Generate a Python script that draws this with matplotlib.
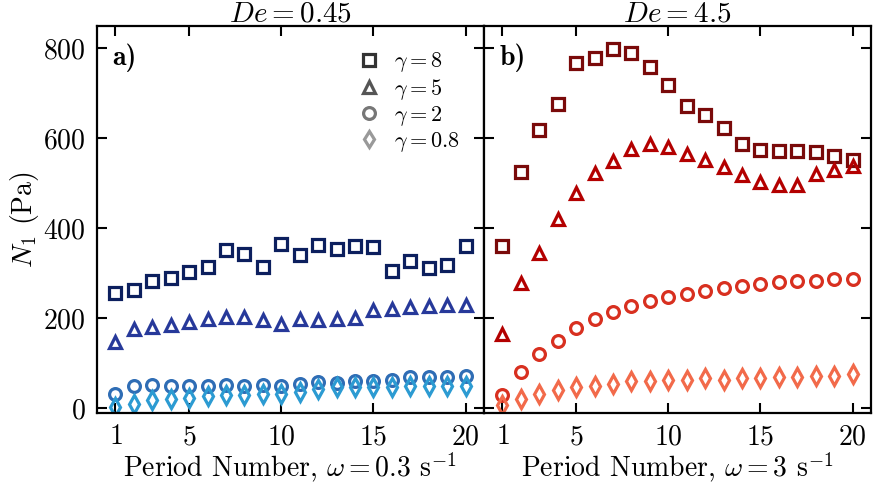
import numpy as np
import matplotlib
matplotlib.use('Agg')
import matplotlib.pyplot as plt
from matplotlib.lines import Line2D

plt.rcParams['font.family'] = 'serif'
plt.rcParams['font.serif'] = ['cmr10']
plt.rcParams['mathtext.fontset'] = 'cm'
plt.rcParams['axes.formatter.use_mathtext'] = True

# period numbers
period = np.arange(1, 21)

# De = 0.45, omega = 0.3 1/s
low_g8 = [257, 264, 283, 290, 303, 315, 353, 344, 315, 366,
          342, 364, 354, 360, 358, 305, 327, 313, 319, 361]
low_g5 = [147, 177, 182, 186, 192, 199, 204, 204, 196, 188,
          198, 197, 198, 201, 218, 220, 225, 227, 231, 229]
low_g2 = [33, 49, 53, 50, 51, 50, 53, 50, 53, 50,
          55, 58, 56, 62, 62, 64, 70, 70, 71, 72]
low_g08 = [4, 10, 18, 21, 23, 28, 31, 31, 33, 33,
           36, 44, 47, 47, 47, 47, 49, 49, 51, 51]

# De = 4.5, omega = 3 1/s
high_g8 = [362, 525, 619, 677, 768, 778, 798, 790, 758, 719,
           673, 653, 623, 588, 575, 573, 572, 571, 560, 553]
high_g5 = [166, 279, 345, 420, 478, 524, 551, 576, 587, 581,
           566, 553, 536, 518, 503, 497, 497, 521, 529, 538]
high_g2 = [31, 81, 121, 151, 179, 199, 214, 227, 238, 247,
           255, 262, 268, 272, 277, 281, 284, 284, 287, 288]
high_g08 = [7, 21, 33, 40, 47, 51, 55, 61, 61, 64,
            64, 67, 64, 67, 67, 69, 71, 73, 73, 76]

gamma_labels = [r'$\gamma=8$', r'$\gamma=5$', r'$\gamma=2$', r'$\gamma=0.8$']
markers = ['s', '^', 'o', 'd']
blues = ['#0c1f5e', '#27399a', '#2f6db5', '#2c9bd2']
reds = ['#7a0a0a', '#b30000', '#d83020', '#f26a4a']
greys = ['#333333', '#555555', '#777777', '#999999']

fig = plt.figure(figsize=(8.73, 4.84), dpi=100)
ax1 = fig.add_axes([0.1111, 0.1467, 0.4433, 0.7996])
ax2 = fig.add_axes([0.5544, 0.1467, 0.4433, 0.7996], sharey=ax1)

for ax, sets, cols in [(ax1, [low_g8, low_g5, low_g2, low_g08], blues),
                       (ax2, [high_g8, high_g5, high_g2, high_g08], reds)]:
    for ys, m, c in zip(sets, markers, cols):
        ax.plot(period, ys, linestyle='none', marker=m, ms=8.5 if m != 'd' else 9,
                mfc='none', mec=c, mew=2.3)
    ax.set_xlim(0, 21)
    ax.set_xticks([1, 5, 10, 15, 20])
    ax.tick_params(direction='in', top=True, right=True, length=7, width=1.5,
                   labelsize=20, pad=8)
    for s in ax.spines.values():
        s.set_linewidth(1.6)

ax1.set_ylim(-10, 850)
ax1.set_yticks([0, 200, 400, 600, 800])
plt.setp(ax2.get_yticklabels(), visible=False)

ax1.set_ylabel(r'$N_1$ (Pa)', fontsize=20, labelpad=2)
ax1.set_xlabel(r'Period Number, $\omega=0.3$ s$^{-1}$', fontsize=20, labelpad=0)
ax2.set_xlabel(r'Period Number, $\omega=3$ s$^{-1}$', fontsize=20, labelpad=0)
ax1.set_title(r'$De=0.45$', fontsize=21, pad=3)
ax2.set_title(r'$De=4.5$', fontsize=21, pad=3)

ax1.text(0.04, 0.955, 'a)', transform=ax1.transAxes, fontsize=20,
         family='cmb10', va='top', ha='left')
ax2.text(0.04, 0.955, 'b)', transform=ax2.transAxes, fontsize=20,
         family='cmb10', va='top', ha='left')

handles = [Line2D([], [], linestyle='none', marker=m, ms=8.5, mfc='none', mec=g, mew=2.3)
           for m, g in zip(markers, greys)]
ax1.legend(handles, gamma_labels, loc='upper right', frameon=False, fontsize=16,
           handletextpad=0.5, labelspacing=0.1, borderaxespad=0.6,
           handlelength=1.2, borderpad=0.5)

fig.savefig('out.png', dpi=100)
